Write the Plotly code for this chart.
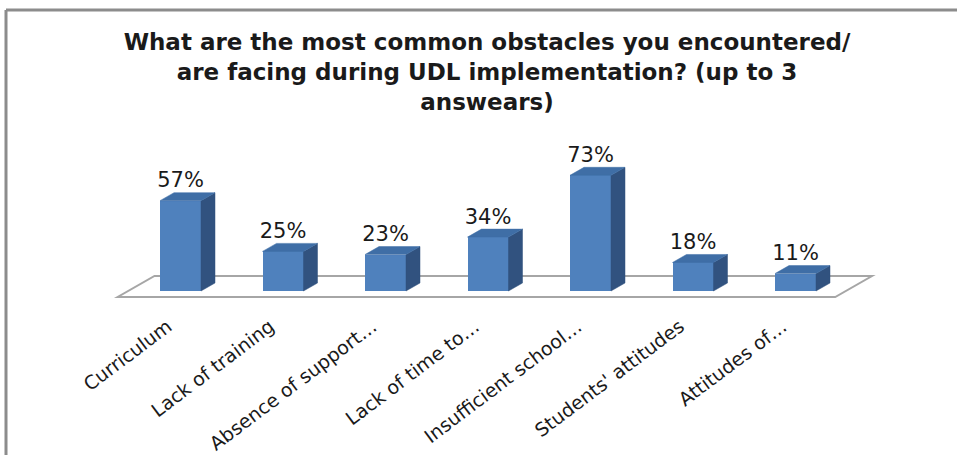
import plotly.graph_objects as go

# Survey results: most common obstacles during UDL implementation (up to 3 answers)
categories = [
    "Curriculum",
    "Lack of training",
    "Absence of support…",
    "Lack of time to…",
    "Insufficient school…",
    "Students' attitudes",
    "Attitudes of…",
]
percent = [57, 25, 23, 34, 73, 18, 11]
title_lines = [
    "What are the most common obstacles you encountered/",
    "are facing during UDL implementation? (up to 3",
    "answears)",
]

# Figure geometry
W, H = 957, 455
ML, MR, MT, MB = 60, 60, 130, 155
plot_w = W - ML - MR
plot_h = H - MT - MB
cat_px = 102.5          # pixels per category step
pct_px = 1.585          # pixels per percentage point
x_min = -(180.5 - ML) / cat_px
x_max = x_min + plot_w / cat_px
y_max = (291 - MT) / pct_px
y_min = y_max - plot_h / pct_px

# Pseudo-3D extrusion (depth vector) expressed in axis units
half_w = 0.2
ddx = 14 / cat_px
ddy = 8 / pct_px

FRONT = "#4F81BD"
TOP = "#3F6EA6"
SIDE = "#31527F"
FLOOR = "#A6A6A6"

fig = go.Figure()

# Floor parallelogram, placed below the traces so the bars hide its back edge
f0, f1 = -0.75, 1.875   # front / back depth factors
left, right = -0.51, 6.49
fx = [left + f0 * ddx, right + f0 * ddx, right + f1 * ddx, left + f1 * ddx]
fy = [f0 * ddy, f0 * ddy, f1 * ddy, f1 * ddy]
floor_path = "M " + " L ".join(f"{a},{b}" for a, b in zip(fx, fy)) + " Z"
fig.add_shape(type="path", path=floor_path, xref="x", yref="y", layer="below",
              fillcolor="white", line=dict(color=FLOOR, width=2))

xs = list(range(len(categories)))

# Front faces
fig.add_trace(go.Bar(x=xs, y=percent, width=2 * half_w, marker=dict(color=FRONT, line=dict(width=0)),
                     showlegend=False, hoverinfo="skip"))

# Side and top faces
for i, v in enumerate(percent):
    r = i + half_w
    l = i - half_w
    fig.add_trace(go.Scatter(
        x=[r, r + ddx, r + ddx, r, r], y=[0, ddy, v + ddy, v, 0],
        mode="lines", fill="toself", fillcolor=SIDE, line=dict(color=SIDE, width=0.5),
        hoverinfo="skip", showlegend=False))
    fig.add_trace(go.Scatter(
        x=[l, l + ddx, r + ddx, r, l], y=[v, v + ddy, v + ddy, v, v],
        mode="lines", fill="toself", fillcolor=TOP, line=dict(color=TOP, width=0.5),
        hoverinfo="skip", showlegend=False))

# Value labels
fig.add_trace(go.Scatter(
    x=xs, y=[v + ddy for v in percent], mode="text",
    text=[f"{v}%" for v in percent], textposition="top center",
    textfont=dict(family="DejaVu Sans", size=21, color="#1a1a1a"),
    hoverinfo="skip", showlegend=False, cliponaxis=False))

# Outer frame (left and top edges)
def px_to_paper_x(px):
    return (px - ML) / plot_w

def px_to_paper_y(py):
    return (H - MB - py) / plot_h

frame = dict(color="#8C8C8C", width=3)
fig.add_shape(type="line", xref="paper", yref="paper",
              x0=px_to_paper_x(6), x1=px_to_paper_x(6), y0=px_to_paper_y(10), y1=px_to_paper_y(H + 5),
              line=frame)
fig.add_shape(type="line", xref="paper", yref="paper",
              x0=px_to_paper_x(6), x1=px_to_paper_x(W + 5), y0=px_to_paper_y(10), y1=px_to_paper_y(10),
              line=frame)

fig.update_layout(
    width=W, height=H,
    margin=dict(l=ML, r=MR, t=MT, b=MB, autoexpand=False),
    paper_bgcolor="white", plot_bgcolor="white",
    title=dict(text="<br>".join(title_lines), x=487 / W, xanchor="center",
               y=1 - 50 / H, yanchor="top", yref="container",
               font=dict(family="DejaVu Sans", size=23, color="#1a1a1a", weight="bold")),
    xaxis=dict(range=[x_min, x_max], tickvals=xs, ticktext=categories, tickangle=-37,
               showgrid=False, zeroline=False, showline=False, ticks="",
               tickfont=dict(family="DejaVu Sans", size=19, color="#1a1a1a"),
               ticklabelstandoff=11, ticklabelshift=-13, automargin=False),
    yaxis=dict(range=[y_min, y_max], visible=False),
    bargap=0,
)

fig.write_html("out.html")
